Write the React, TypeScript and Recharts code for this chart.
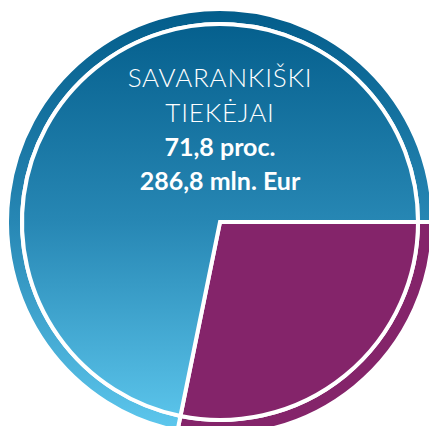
import React from "react";
import { PieChart, Pie, Cell } from "recharts";

const categories = ["Kiti", "Savarankiški tiekėjai"];
const shares = [28.2, 71.8];
const titleLines = ["SAVARANKIŠKI", "TIEKĖJAI"];
const valueLines = ["71,8 proc.", "286,8 mln. Eur"];

const data = categories.map((name, i) => ({ name, value: shares[i] }));
const fills = ["#84246a", "url(#blueGrad)"];

const renderLabel = (props: any) => {
  const { cx, cy, index } = props;
  if (index !== 1) return null;
  return (
    <g>
      <text x={cx} y={cy - 135} textAnchor="middle" fill="#ffffff" fontFamily="Lato" fontWeight={300} fontSize={26} letterSpacing={0.8}>
        {titleLines[0]}
      </text>
      <text x={cx} y={cy - 100} textAnchor="middle" fill="#ffffff" fontFamily="Lato" fontWeight={300} fontSize={26} letterSpacing={0.8}>
        {titleLines[1]}
      </text>
      <text x={cx} y={cy - 66} textAnchor="middle" fill="#ffffff" fontFamily="Lato" fontWeight={700} fontSize={25}>
        {valueLines[0]}
      </text>
      <text x={cx} y={cy - 32} textAnchor="middle" fill="#ffffff" fontFamily="Lato" fontWeight={700} fontSize={25}>
        {valueLines[1]}
      </text>
    </g>
  );
};

export default function App() {
  return (
    <div style={{ position: "absolute", left: 0, top: 0 }}>
      <PieChart width={429} height={426} margin={{ top: 0, right: 0, bottom: 0, left: 0 }}>
        <defs>
          <linearGradient id="blueGrad" gradientUnits="userSpaceOnUse" x1="0" y1="11" x2="0" y2="433">
            <stop offset="0" stopColor="#035d8b" />
            <stop offset="0.5" stopColor="#2787b4" />
            <stop offset="1" stopColor="#5ec8ee" />
          </linearGradient>
        </defs>
        <Pie
          data={data}
          dataKey="value"
          cx={220}
          cy={222}
          innerRadius={198}
          outerRadius={213}
          startAngle={0}
          endAngle={-360}
          stroke="#ffffff"
          strokeWidth={4}
          isAnimationActive={false}
        >
          {data.map((d, i) => (
            <Cell key={d.name} fill={fills[i]} />
          ))}
        </Pie>
        <Pie
          data={data}
          dataKey="value"
          cx={220}
          cy={222}
          innerRadius={0}
          outerRadius={198}
          startAngle={0}
          endAngle={-360}
          stroke="#ffffff"
          strokeWidth={4}
          label={renderLabel}
          labelLine={false}
          isAnimationActive={false}
        >
          {data.map((d, i) => (
            <Cell key={d.name} fill={fills[i]} />
          ))}
        </Pie>
      </PieChart>
    </div>
  );
}
